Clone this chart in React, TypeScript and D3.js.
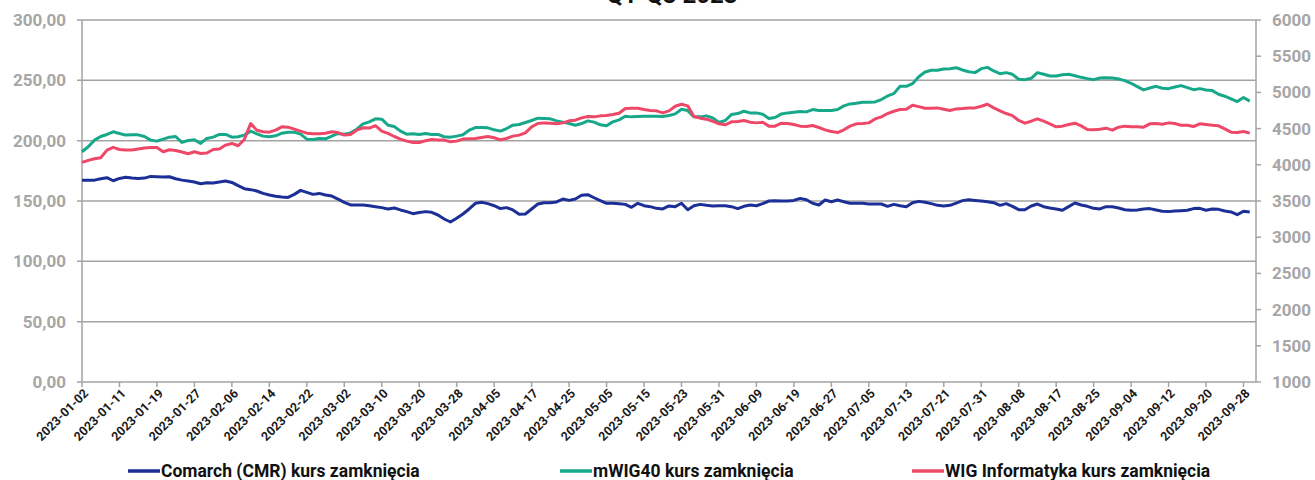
import React from "react"
import * as d3 from "d3"

// tick labels on the category axis (one every 6 sessions)
const tickLabels: string[] = [
	"2023-01-02", "2023-01-11", "2023-01-19", "2023-01-27", "2023-02-06", "2023-02-14",
	"2023-02-22", "2023-03-02", "2023-03-10", "2023-03-20", "2023-03-28", "2023-04-05",
	"2023-04-17", "2023-04-25", "2023-05-05", "2023-05-15", "2023-05-23", "2023-05-31",
	"2023-06-09", "2023-06-19", "2023-06-27", "2023-07-05", "2023-07-13", "2023-07-21",
	"2023-07-31", "2023-08-08", "2023-08-17", "2023-08-25", "2023-09-04", "2023-09-12",
	"2023-09-20", "2023-09-28",
]
const ticksEvery = 6

// Comarch close price (left axis), one value per session
const comarch: number[] = [
	167.3, 167.3, 167.3, 168.4, 169.3, 166.8, 168.7, 169.6, 169.0, 168.7,
	169.0, 170.4, 170.1, 169.8, 170.1, 168.4, 167.3, 166.5, 165.7, 164.3,
	165.2, 164.9, 165.7, 166.5, 165.4, 162.7, 160.2, 159.4, 158.3, 156.3,
	155.0, 153.9, 153.3, 153.0, 155.5, 158.8, 157.2, 155.5, 156.3, 155.0,
	154.1, 151.6, 148.9, 146.7, 146.7, 146.7, 146.1, 145.3, 144.5, 143.4,
	144.2, 142.6, 141.2, 139.5, 140.4, 141.2, 140.6, 138.4, 135.1, 132.6,
	135.7, 139.2, 143.4, 148.1, 148.9, 147.8, 146.1, 143.7, 144.5, 142.6,
	139.0, 139.2, 143.4, 147.5, 148.6, 148.6, 149.2, 151.6, 150.5, 151.6,
	154.7, 155.2, 152.7, 150.3, 148.1, 148.1, 147.8, 147.2, 144.8, 148.1,
	146.1, 145.3, 143.9, 143.4, 145.9, 145.3, 148.1, 142.8, 146.1, 147.2,
	146.4, 145.9, 146.1, 146.1, 145.3, 143.7, 145.6, 146.7, 146.1, 147.8,
	150.0, 150.3, 150.0, 150.0, 150.5, 152.2, 151.1, 148.1, 146.7, 150.8,
	149.4, 150.8, 149.4, 148.1, 148.1, 148.1, 147.5, 147.5, 147.5, 145.6,
	147.2, 146.1, 145.3, 148.6, 149.7, 148.9, 147.8, 146.4, 145.9, 146.4,
	148.3, 150.3, 151.0, 150.5, 150.0, 149.4, 148.6, 146.4, 147.8, 145.6,
	142.8, 142.8, 145.9, 147.5, 145.3, 144.2, 143.4, 142.3, 145.3, 148.3,
	146.7, 145.6, 143.9, 143.4, 145.3, 145.3, 144.2, 142.8, 142.3, 142.6,
	143.4, 143.7, 142.6, 141.5, 141.2, 141.7, 142.0, 142.3, 143.7, 143.9,
	142.3, 143.4, 143.1, 141.7, 140.9, 138.7, 141.5, 140.9,
]

// mWIG40 close (right axis)
const mwig40: number[] = [
	4180, 4249, 4341, 4391, 4419, 4456, 4433, 4410, 4414, 4414,
	4391, 4341, 4327, 4354, 4382, 4391, 4309, 4336, 4345, 4295,
	4364, 4382, 4419, 4419, 4382, 4387, 4410, 4465, 4428, 4396,
	4387, 4400, 4437, 4451, 4451, 4423, 4354, 4350, 4364, 4359,
	4396, 4433, 4423, 4441, 4492, 4566, 4593, 4635, 4630, 4547,
	4529, 4465, 4423, 4428, 4419, 4433, 4419, 4419, 4387, 4382,
	4396, 4414, 4478, 4515, 4515, 4511, 4483, 4465, 4501, 4547,
	4557, 4584, 4612, 4644, 4639, 4635, 4607, 4589, 4570, 4547,
	4570, 4607, 4589, 4552, 4538, 4593, 4621, 4671, 4662, 4667,
	4671, 4671, 4671, 4667, 4680, 4703, 4768, 4749, 4662, 4662,
	4676, 4648, 4584, 4612, 4694, 4708, 4740, 4717, 4717, 4699,
	4639, 4653, 4703, 4717, 4726, 4736, 4731, 4763, 4749, 4749,
	4749, 4763, 4814, 4841, 4850, 4864, 4864, 4869, 4901, 4951,
	4983, 5084, 5084, 5121, 5217, 5282, 5305, 5305, 5323, 5328,
	5341, 5309, 5286, 5273, 5328, 5346, 5296, 5259, 5273, 5250,
	5181, 5176, 5195, 5273, 5250, 5227, 5227, 5245, 5250, 5231,
	5208, 5190, 5176, 5199, 5204, 5199, 5185, 5162, 5126, 5080,
	5034, 5061, 5084, 5057, 5052, 5075, 5094, 5066, 5038, 5052,
	5034, 5025, 4974, 4947, 4910, 4873, 4930, 4880,
]

// WIG Informatyka close (right axis)
const wigInfo: number[] = [
	4033, 4061, 4084, 4098, 4203, 4240, 4212, 4203, 4203, 4217,
	4231, 4240, 4240, 4180, 4208, 4198, 4176, 4153, 4180, 4157,
	4162, 4212, 4217, 4272, 4295, 4263, 4350, 4570, 4478, 4456,
	4451, 4478, 4524, 4520, 4492, 4465, 4437, 4428, 4428, 4437,
	4456, 4446, 4410, 4419, 4478, 4511, 4507, 4540, 4465, 4433,
	4391, 4355, 4327, 4309, 4309, 4332, 4350, 4341, 4341, 4318,
	4327, 4355, 4359, 4364, 4377, 4391, 4373, 4345, 4364, 4396,
	4410, 4442, 4524, 4570, 4579, 4575, 4566, 4579, 4607, 4616,
	4648, 4667, 4662, 4676, 4680, 4694, 4713, 4777, 4781, 4781,
	4763, 4749, 4745, 4717, 4745, 4809, 4837, 4814, 4667, 4644,
	4630, 4602, 4566, 4552, 4593, 4598, 4612, 4589, 4579, 4589,
	4534, 4534, 4575, 4570, 4557, 4534, 4529, 4543, 4515, 4483,
	4460, 4446, 4483, 4534, 4566, 4570, 4579, 4634, 4662, 4708,
	4740, 4763, 4768, 4823, 4804, 4781, 4781, 4786, 4768, 4749,
	4772, 4777, 4785, 4786, 4809, 4837, 4786, 4745, 4708, 4680,
	4612, 4575, 4602, 4635, 4602, 4566, 4524, 4534, 4557, 4575,
	4538, 4488, 4483, 4492, 4506, 4478, 4520, 4534, 4524, 4524,
	4520, 4566, 4570, 4561, 4579, 4570, 4547, 4547, 4529, 4566,
	4557, 4547, 4538, 4497, 4451, 4446, 4460, 4437,
]

const seriesNames = [
	"Comarch (CMR) kurs zamknięcia",
	"mWIG40 kurs zamknięcia",
	"WIG Informatyka kurs zamknięcia",
]

const W = 1315
const H = 480
const margin = { top: 20, right: 59, bottom: 98, left: 82 }
const innerW = W - margin.left - margin.right
const innerH = H - margin.top - margin.bottom

const navy = "#1b2f96"
const teal = "#17a88a"
const pink = "#ee4868"
const gridGrey = "#a3a3a3"
const labelGrey = "#a6a6a6"
const font = "Roboto, 'Liberation Sans', sans-serif"

const plLocale = d3.formatLocale({
	decimal: ",",
	thousands: " ",
	grouping: [3],
	currency: ["", " zł"],
})
const fmtLeft = plLocale.format(".2f")

export default function App() {
	const n = comarch.length
	const x = d3
		.scaleLinear()
		.domain([0, n])
		.range([margin.left, margin.left + innerW])
	const yLeft = d3
		.scaleLinear()
		.domain([0, 300])
		.range([margin.top + innerH, margin.top])
	const yRight = d3
		.scaleLinear()
		.domain([1000, 6000])
		.range([margin.top + innerH, margin.top])

	const lineLeft = d3
		.line<number>()
		.x((d, i) => x(i))
		.y((d) => yLeft(d))
	const lineRight = d3
		.line<number>()
		.x((d, i) => x(i))
		.y((d) => yRight(d))

	const leftTicks = d3.range(0, 301, 50)
	const rightTicks = d3.range(1000, 6001, 500)
	const right = margin.left + innerW
	const bottom = margin.top + innerH

	/* legend layout: line swatch followed by text */
	const legendX = [128, 560, 912]
	const legendColors = [navy, teal, pink]
	const legendY = 471

	return (
		<div style={{ position: "absolute", left: 0, top: 0 }}>
			<svg width={W} height={H} style={{ display: "block", fontFamily: font }}>
				<rect width={W} height={H} fill="white" />
				<text
					x={672}
					y={3}
					textAnchor="middle"
					fontSize={24}
					fontWeight={700}
					fill="#111">
					Q1-Q3 2023
				</text>

				{/* horizontal grid + left axis */}
				{leftTicks.map((t) => (
					<g key={"l" + t}>
						<line
							x1={margin.left - 5}
							x2={right}
							y1={yLeft(t)}
							y2={yLeft(t)}
							stroke={gridGrey}
							strokeWidth={1.5}
						/>
						<text
							x={66}
							y={yLeft(t)}
							dy="0.35em"
							textAnchor="end"
							fontSize={17}
							fontWeight={700}
							fill={labelGrey}>
							{fmtLeft(t)}
						</text>
					</g>
				))}
				<line
					x1={margin.left}
					x2={margin.left}
					y1={margin.top}
					y2={bottom}
					stroke={gridGrey}
					strokeWidth={1.5}
				/>

				{/* right axis */}
				<line x1={right} x2={right} y1={margin.top} y2={bottom} stroke={gridGrey} strokeWidth={1.5} />
				{rightTicks.map((t) => (
					<g key={"r" + t}>
						<line
							x1={right}
							x2={right + 5}
							y1={yRight(t)}
							y2={yRight(t)}
							stroke={gridGrey}
							strokeWidth={1.5}
						/>
						<text
							x={1272}
							y={yRight(t)}
							dy="0.35em"
							fontSize={17}
							fontWeight={700}
							fill={labelGrey}>
							{t}
						</text>
					</g>
				))}

				{/* category axis */}
				{tickLabels.map((lab, k) => {
					const tx = x(k * ticksEvery)
					return (
						<g key={lab}>
							<line x1={tx} x2={tx} y1={bottom} y2={bottom + 5} stroke={gridGrey} strokeWidth={1.5} />
							<text
								transform={`translate(${tx + 4},${bottom + 9}) rotate(-45)`}
								textAnchor="end"
								dy="0.35em"
								fontSize={12.5}
								fontWeight={700}
								fill="#1a1a1a">
								{lab}
							</text>
						</g>
					)
				})}

				{/* series */}
				<path d={lineRight(mwig40) || ""} fill="none" stroke={teal} strokeWidth={3} strokeLinejoin="round" />
				<path d={lineRight(wigInfo) || ""} fill="none" stroke={pink} strokeWidth={3} strokeLinejoin="round" />
				<path d={lineLeft(comarch) || ""} fill="none" stroke={navy} strokeWidth={3} strokeLinejoin="round" />

				{/* legend */}
				{seriesNames.map((name, i) => (
					<g key={name}>
						<line
							x1={legendX[i]}
							x2={legendX[i] + 32}
							y1={legendY}
							y2={legendY}
							stroke={legendColors[i]}
							strokeWidth={3.5}
						/>
						<text
							x={legendX[i] + 33}
							y={legendY}
							dy="0.36em"
							fontSize={17.5}
							fontWeight={700}
							fill="#111">
							{name}
						</text>
					</g>
				))}
			</svg>
		</div>
	)
}
